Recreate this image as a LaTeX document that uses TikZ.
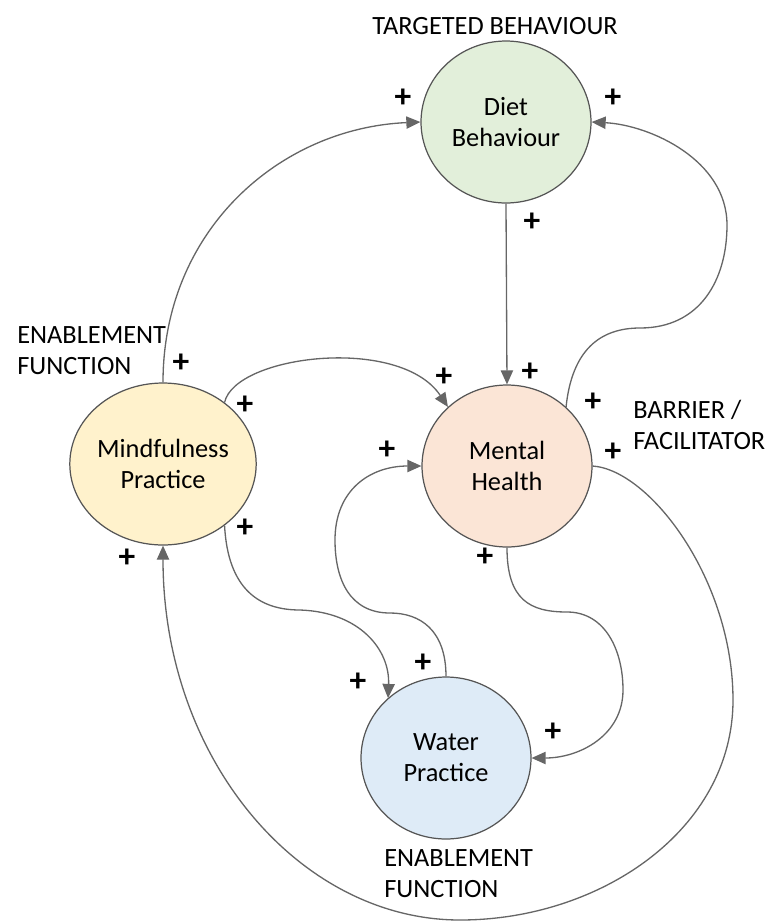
\documentclass[tikz,border=0pt]{standalone}
\usepackage{fontspec}
\setmainfont{Carlito}
\usetikzlibrary{arrows.meta,shapes.geometric}
\definecolor{dietfill}{HTML}{E2EFDA}
\definecolor{mindfill}{HTML}{FFF2CC}
\definecolor{mentalfill}{HTML}{FBE5D6}
\definecolor{waterfill}{HTML}{DEEBF7}
\definecolor{edgegray}{HTML}{555555}
\definecolor{linkgray}{HTML}{666666}
\begin{document}
\begin{tikzpicture}[x=0.02cm,y=-0.02cm,
  factor/.style={ellipse, draw=edgegray, line width=0.7pt,
    minimum width=3.4cm, minimum height=3.24cm, inner sep=0pt,
    align=center, font=\fontsize{15}{17.6}\selectfont},
  link/.style={draw=linkgray, line width=0.75pt,
    -{Triangle[length=8pt,width=7pt]}},
  sign/.style={font=\fontsize{19}{19}\selectfont\bfseries, inner sep=0pt},
  note/.style={font=\fontsize{15}{17.6}\selectfont, inner sep=0pt, align=left}]
\useasboundingbox (0,0) rectangle (765,924);

% factors
\node[factor, fill=dietfill]   (diet)   at (506,122) {Diet\\Behaviour};
\node[factor, fill=mindfill]   (mind)   at (163,464) {Mindfulness\\Practice};
\node[factor, fill=mentalfill] (mental) at (507,466) {Mental\\Health};
\node[factor, fill=waterfill]  (water)  at (446,758) {Water\\Practice};

% role labels
\node[note, anchor=north]      (lbltarget) at (495,17)  {TARGETED BEHAVIOUR};
\node[note, anchor=north west] (lblmind)   at (17,326)  {ENABLEMENT\\FUNCTION};
\node[note, anchor=north west] (lblmental) at (633,400) {BARRIER /\\FACILITATOR};
\node[note, anchor=north west] (lblwater)  at (384,849) {ENABLEMENT\\FUNCTION};

% causal links
\draw[link] (mind.north) .. controls (163,230) and (280,128) .. (diet.west);
\draw[link] (diet.south) -- (mental.north);
\draw[link] (mental.45) .. controls (572,350) and (600,328) .. (640,328)
  .. controls (700,328) and (727,280) .. (727,225)
  .. controls (727,160) and (650,125) .. (diet.east);
\draw[link] (mind.45) .. controls (235,355) and (400,335) .. (mental.135);
\draw[link] (mind.-45) .. controls (228,590) and (260,610) .. (300,610)
  .. controls (360,612) and (390,650) .. (water.134);
\draw[link] (water.north) .. controls (446,630) and (420,613) .. (390,613)
  .. controls (350,613) and (335,580) .. (335,540)
  .. controls (335,490) and (370,466) .. (mental.west);
\draw[link] (mental.south) .. controls (507,600) and (530,612) .. (567,612)
  .. controls (605,612) and (623,650) .. (623,690)
  .. controls (623,735) and (580,758) .. (water.east);
\draw[link] (mental.east) .. controls (650,470) and (733,580) .. (733,700)
  .. controls (733,830) and (600,920) .. (460,920)
  .. controls (300,920) and (163,760) .. (mind.south);

% polarity signs
\node[sign] (s1)  at (403,98)  {+};
\node[sign] (s2)  at (613,98)  {+};
\node[sign] (s3)  at (532,222) {+};
\node[sign] (s4)  at (181,363) {+};
\node[sign] (s5)  at (245,405) {+};
\node[sign] (s6)  at (444,377) {+};
\node[sign] (s7)  at (530,372) {+};
\node[sign] (s8)  at (593,402) {+};
\node[sign] (s9)  at (613,452) {+};
\node[sign] (s10) at (387,450) {+};
\node[sign] (s11) at (245,528) {+};
\node[sign] (s12) at (127,558) {+};
\node[sign] (s13) at (485,557) {+};
\node[sign] (s14) at (423,663) {+};
\node[sign] (s15) at (358,682) {+};
\node[sign] (s16) at (553,732) {+};
\end{tikzpicture}
\end{document}
